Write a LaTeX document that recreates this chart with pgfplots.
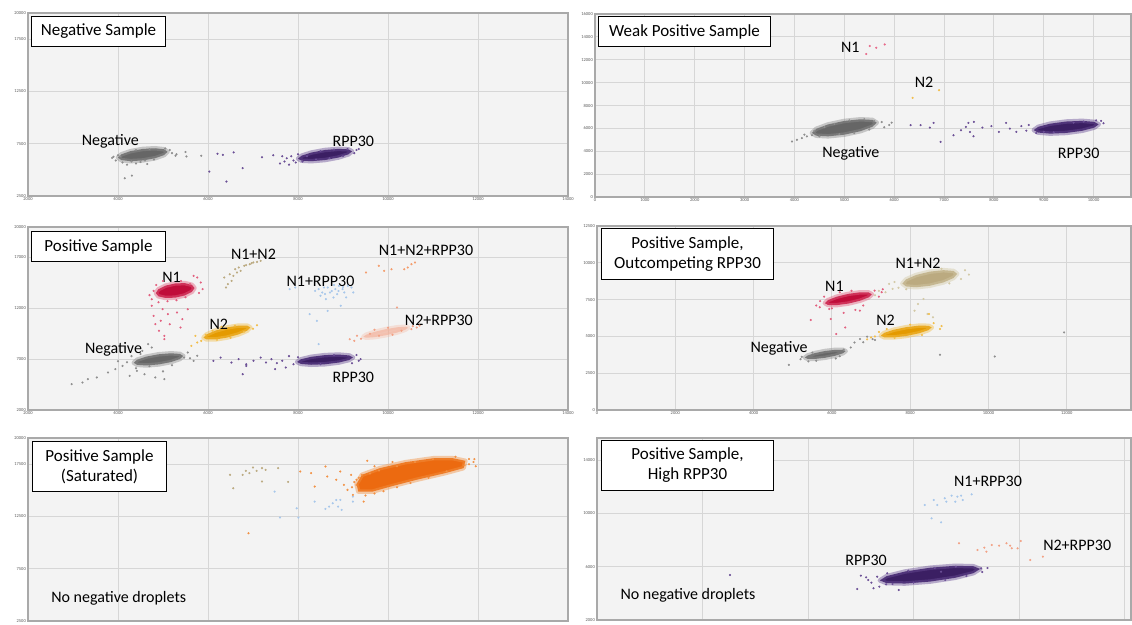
\documentclass[border=0pt]{standalone}
\usepackage{fontspec}
\setmainfont{Carlito}
\usepackage{pgfplots}
\pgfplotsset{compat=1.18}
\definecolor{bgc}{HTML}{F3F3F3}
\definecolor{gridc}{HTML}{D6D6D6}
\definecolor{framec}{HTML}{A9A9A9}
\definecolor{negc}{HTML}{666666}
\definecolor{negh}{HTML}{8E8E8E}
\definecolor{rppc}{HTML}{3B1F63}
\definecolor{rpph}{HTML}{6B4F96}
\definecolor{n1c}{HTML}{C00D3A}
\definecolor{n1h}{HTML}{E2607F}
\definecolor{n2c}{HTML}{E49A00}
\definecolor{n2h}{HTML}{F2BE4A}
\definecolor{n12c}{HTML}{BBAA80}
\definecolor{n12h}{HTML}{D3C9A6}
\definecolor{n1rc}{HTML}{A7C7EB}
\definecolor{n2rc}{HTML}{F2A184}
\definecolor{n2rh}{HTML}{F6B9A2}
\definecolor{n12rc}{HTML}{F39C6B}
\definecolor{satc}{HTML}{EC6A10}
\definecolor{sath}{HTML}{F29245}
\definecolor{pinkc}{HTML}{E86A8A}
\tikzset{
  tbox/.style={draw=black, line width=1pt, fill=white, anchor=north west, inner sep=0pt, align=center, font=\fontsize{17}{20}\selectfont},
  lab/.style={font=\fontsize{16}{18}\selectfont, text=black},
}
\pgfplotsset{
  dd/.style={scale only axis, anchor=north west, clip=false,
    axis background/.style={fill=bgc},
    grid=major, major grid style={draw=gridc, line width=0.9pt},
    axis line style={draw=framec, line width=1.4pt},
    major tick length=0pt,
    tick label style={font=\fontsize{4.5}{5}\selectfont, text=black!65},
    /pgf/number format/assume math mode=true,
    /pgf/number format/1000 sep={},
    scaled ticks=false,
    xticklabel style={inner sep=1.5pt},
    yticklabel style={inner sep=2pt},
  },
  cl/.style 2 args={fill=#1, draw=#2, line width=4.5pt, draw opacity=0.45, line join=round, line cap=round, forget plot},
  pts/.style={only marks, mark=*, mark size=0.85pt, color=#1, mark options={draw=none, fill=#1}, forget plot},
}
\begin{document}
\begin{tikzpicture}
% ---------------- TL: Negative Sample
\begin{axis}[dd, at={(28pt,-13pt)}, width=540pt, height=183pt,
  xmin=2000, xmax=14000, ymin=2500, ymax=20000,
  xtick={2000,4000,6000,8000,10000,12000,14000}, ytick={2500,7500,12500,17500,20000}]
\addplot[cl={negc}{negh}] coordinates {(5100,6730)(5026,6967)(4825,7067)(4550,7000)(4275,6787)(4074,6483)(4000,6170)(4074,5933)(4275,5833)(4550,5900)(4825,6113)(5026,6417)(5100,6730)};
\addplot[pts=negh] coordinates {(3870,6150)(3950,5900)(4050,6300)(4100,5700)(4200,5500)(4300,5800)(4400,5600)(4500,5750)(4150,4200)(4310,4450)(4600,5900)(4800,6000)(5150,6900)(5200,6600)(5300,6500)(5280,6350)(5520,6280)(5850,6350)(5500,6700)(4700,7000)(4400,6900)(4000,6400)(3900,6250)(5050,7050)(4650,5550)};
\addplot[cl={rppc}{rpph}] coordinates {(9200,6770)(9120,6963)(8900,7010)(8600,6900)(8300,6660)(8080,6357)(8000,6070)(8080,5877)(8300,5830)(8600,5940)(8900,6180)(9120,6483)(9200,6770)};
\addplot[pts=rpph] coordinates {(6210,6540)(6330,6440)(6570,6670)(6030,4840)(6410,3880)(6770,5160)(7200,6200)(7450,6400)(7600,5600)(7650,6300)(7700,5800)(7750,6100)(7800,5500)(7850,6300)(7900,5900)(7950,5700)(8000,6500)(8100,5800)(8200,6300)(9300,6900)(9350,7000)(9250,6600)(9100,7000)(8800,6950)(8500,6800)(8400,6000)(8700,6100)(9000,6300)};
\node[lab] at (axis cs:3830,7720) {Negative};
\node[lab] at (axis cs:9230,7720) {RPP30};
\node[tbox, minimum width=134pt, minimum height=30pt, xshift=3pt, yshift=-3pt] at (rel axis cs:0,1) {Negative Sample};
\end{axis}
% ---------------- TR: Weak Positive Sample
\begin{axis}[dd, at={(595pt,-14pt)}, width=536pt, height=183pt,
  xmin=0, xmax=10750, ymin=0, ymax=16000,
  xtick={0,1000,...,10000}, ytick={0,2000,...,16000}]
\addplot[cl={negc}{negh}] coordinates {(5650,6500)(5563,6740)(5325,6795)(5000,6650)(4675,6345)(4437,5960)(4350,5600)(4437,5360)(4675,5305)(5000,5450)(5325,5755)(5563,6140)(5650,6500)};
\addplot[pts=negh] coordinates {(3950,4850)(4050,5000)(4150,5150)(4250,5300)(4200,5450)(4350,5400)(4500,5300)(4400,5800)(4600,6100)(4800,6400)(5100,6700)(5400,6800)(5600,6650)(5750,6550)(5900,6300)(5800,6100)(5500,5900)(5200,5600)(4900,5500)(5950,6500)};
\addplot[cl={rppc}{rpph}] coordinates {(10100,6350)(10013,6567)(9775,6658)(9450,6600)(9125,6408)(8887,6133)(8800,5850)(8887,5633)(9125,5542)(9450,5600)(9775,5792)(10013,6067)(10100,6350)};
\addplot[pts=rpph] coordinates {(6330,6277)(6530,6277)(6715,6070)(6790,6480)(6930,4820)(7190,5400)(7340,5840)(7440,6130)(7490,6480)(7590,5310)(7520,5690)(7600,6570)(7770,6070)(7950,6190)(8100,5690)(8245,6480)(8320,5980)(8450,5700)(8550,6200)(8650,5800)(8700,6300)(10150,6650)(10200,6450)(10050,6700)(9800,6600)(9600,6500)(9200,5650)(9000,5700)(8850,5600)};
\addplot[pts=pinkc] coordinates {(5440,12500)(5510,13200)(5640,13050)(5810,13340)};
\addplot[pts=n2h] coordinates {(6370,8670)(6900,9340)};
\node[lab] at (axis cs:5120,13050) {N1};
\node[lab] at (axis cs:6600,10070) {N2};
\node[lab] at (axis cs:5130,3850) {Negative};
\node[lab] at (axis cs:9700,3850) {RPP30};
\node[tbox, minimum width=172pt, minimum height=30pt, xshift=3pt, yshift=-2pt] at (rel axis cs:0,1) {Weak Positive Sample};
\end{axis}
% ---------------- ML: Positive Sample
\begin{axis}[dd, at={(28pt,-227pt)}, width=540pt, height=183pt,
  xmin=2000, xmax=14000, ymin=2000, ymax=20000,
  xtick={2000,4000,6000,8000,10000,12000,14000}, ytick={2000,7000,12000,17000,20000}]
\addplot[cl={negc}{negh}] coordinates {(5450,7310)(5376,7516)(5175,7578)(4900,7480)(4625,7248)(4424,6944)(4350,6650)(4424,6444)(4625,6382)(4900,6480)(5175,6712)(5376,7016)(5450,7310)};
\addplot[pts=negh] coordinates {(2970,4540)(3210,4700)(3330,5030)(3530,5200)(3780,5690)(3940,6020)(4100,6340)(4260,5360)(4590,5520)(4830,5200)(5030,5030)(4420,5850)(4670,8480)(4750,8150)(4540,7820)(5550,7660)(5680,6840)(5760,7330)(5470,7160)(4200,6700)(4300,7300)(4500,7500)(5600,7100)(5200,6400)(4700,6300)(4000,6800)(5000,5800)(4400,6100)};
\addplot[cl={n1c}{n1h}] coordinates {(5700,14000)(5642,14317)(5485,14481)(5270,14450)(5055,14231)(4898,13883)(4840,13500)(4898,13183)(5055,13019)(5270,13050)(5485,13269)(5642,13617)(5700,14000)};
\addplot[pts=n1h] coordinates {(4750,12250)(4790,11260)(4830,10440)(4910,9790)(4950,10770)(5030,9300)(4990,11920)(5110,11430)(5150,10440)(5310,11590)(5390,10110)(5430,10930)(5550,11920)(5030,8970)(5760,15030)(5840,14540)(5880,13890)(5680,15200)(4750,12900)(4790,13720)(4700,13300)(4850,14300)(5000,14700)(5400,14700)(5600,14400)(5800,13500)(5100,12700)(5300,12800)(4900,12600)(5500,13100)};
\addplot[cl={n2c}{n2h}] coordinates {(6940,10120)(6870,10303)(6680,10303)(6420,10120)(6160,9803)(5970,9437)(5900,9120)(5970,8937)(6160,8937)(6420,9120)(6680,9437)(6870,9803)(6940,10120)};
\addplot[pts=n2h] coordinates {(5630,8310)(5760,8640)(5720,9300)(7090,10340)(5850,8800)(5950,9400)(6100,9800)(6300,10200)(6600,10300)(6800,9700)(6500,9100)(7000,10000)(6200,8900)};
\addplot[pts=n12c] coordinates {(6362,15030)(6483,15360)(6604,15850)(6685,16020)(6806,16180)(6927,16340)(7008,16510)(7089,16570)(6523,14700)(6645,15520)(6564,15200)(6846,16250)(6443,14380)(6402,14050)(6968,16440)(7170,16670)(6725,15690)};
\addplot[pts=n1rc] coordinates {(7815,13890)(7937,14050)(8260,11430)(8420,10770)(8460,8480)(8660,11750)(8950,12250)(9190,14050)(9230,13560)(9070,13070)(9110,14210)(8580,14050)(8380,13720)(8500,13230)(8870,13390)(8990,13890)(8790,13070)(8620,12900)(8910,14210)(8710,13560)(8830,13890)(8540,13560)(9030,13560)(8460,13890)(8660,14050)(8750,13700)(8800,14300)(8900,13700)(8600,13400)(9000,14100)};
\addplot[pts=n12rc] coordinates {(9510,15520)(9795,16180)(10078,15850)(10360,15850)(10440,16020)(10520,16340)(10600,16510)(9915,15690)};
\addplot[cl={n2rc}{n2rh}, fill opacity=0.55, draw opacity=0.35] coordinates {(10450,10100)(10383,10190)(10200,10135)(9950,9950)(9700,9685)(9517,9410)(9450,9200)(9517,9110)(9700,9165)(9950,9350)(10200,9615)(10383,9890)(10450,10100)};
\addplot[pts=n2rc] coordinates {(9150,8970)(9310,9300)(10200,12080)(10520,9950)(10640,10110)(9400,9000)(9600,9500)(9800,9300)(10000,10100)(10300,9800)(10100,9400)(9700,9900)(9250,8800)(10700,10300)(10550,10250)};
\addplot[cl={rppc}{rpph}] coordinates {(9220,7170)(9137,7366)(8910,7450)(8600,7400)(8290,7230)(8063,6984)(7980,6730)(8063,6534)(8290,6450)(8600,6500)(8910,6670)(9137,6916)(9220,7170)};
\addplot[pts=rpph] coordinates {(6120,6840)(6280,7160)(6520,6670)(6680,7000)(6850,6510)(7010,6840)(7170,7160)(7290,6670)(7410,7000)(7530,6610)(7650,6840)(6770,5520)(6850,6340)(9390,7000)(9350,6840)(7490,6020)(7730,6180)(7800,7300)(7900,6500)(8000,7200)(9300,7400)(9200,6600)(8500,6500)(8800,7400)};
\node[lab] at (axis cs:5190,15030) {N1};
\node[lab] at (axis cs:7010,17330) {N1+N2};
\node[lab] at (axis cs:8500,14700) {N1+RPP30};
\node[lab] at (axis cs:10845,17660) {N1+N2+RPP30};
\node[lab] at (axis cs:6240,10440) {N2};
\node[lab] at (axis cs:11130,10770) {N2+RPP30};
\node[lab] at (axis cs:3900,7980) {Negative};
\node[lab] at (axis cs:9230,5200) {RPP30};
\node[tbox, minimum width=134pt, minimum height=30pt, xshift=3pt, yshift=-4pt] at (rel axis cs:0,1) {Positive Sample};
\end{axis}
% ---------------- MR: Outcompeting RPP30
\begin{axis}[dd, at={(597pt,-226pt)}, width=534pt, height=184pt,
  xmin=0, xmax=13640, ymin=0, ymax=12500,
  xtick={0,2000,...,12000}, ytick={0,2500,...,12500}]
\addplot[cl={negc}{negh}] coordinates {(6350,4000)(6280,4086)(6090,4089)(5830,4010)(5570,3869)(5380,3704)(5310,3560)(5380,3474)(5570,3471)(5830,3550)(6090,3691)(6280,3856)(6350,4000)};
\addplot[pts=negh] coordinates {(4900,3070)(5230,3610)(6577,4590)(6716,4820)(6900,4980)(7040,4820)(6480,4250)(5400,3300)(5600,3350)(6100,3500)(6300,4100)(5500,3900)(5200,3450)(6200,3650)(11930,5270)(10160,3640)(8760,3750)(6800,4600)(7100,4750)};
\addplot[cl={n1c}{n1h}] coordinates {(7020,7860)(6940,7985)(6720,7996)(6420,7890)(6120,7696)(5900,7465)(5820,7260)(5900,7135)(6120,7124)(6420,7230)(6720,7424)(6940,7655)(7020,7860)};
\addplot[pts=n1h] coordinates {(5460,6110)(5970,6180)(6110,5160)(6340,5610)(5930,6860)(5690,6980)(6716,6750)(7090,8110)(7270,8000)(5700,7400)(5600,7100)(6000,6900)(6800,7100)(7200,7700)(7300,8200)(6500,8100)(6200,8000)(5800,7700)(6600,6800)(6300,6600)};
\addplot[cl={n12c}{n12h}] coordinates {(9200,9250)(9106,9446)(8850,9501)(8500,9400)(8150,9171)(7894,8874)(7800,8590)(7894,8394)(8150,8339)(8500,8440)(8850,8669)(9106,8966)(9200,9250)};
\addplot[pts=n12h] coordinates {(7370,8000)(7550,8230)(8200,7200)(8110,6750)(8340,7545)(8580,6300)(8440,6520)(7460,8570)(9400,9500)(9500,9200)(9300,8900)(7600,8700)(7700,8300)(8800,9600)(9000,8600)(7900,8200)(7100,7800)(7200,8100)};
\addplot[cl={n2c}{n2h}] coordinates {(8550,5610)(8463,5722)(8225,5730)(7900,5630)(7575,5450)(7337,5238)(7250,5050)(7337,4938)(7575,4930)(7900,5030)(8225,5210)(8463,5422)(8550,5610)};
\addplot[pts=n2h] coordinates {(8480,6520)(8760,5500)(7000,4930)(7100,5000)(7200,5300)(8600,5900)(8800,5700)(8300,5100)(7600,4900)(8000,5800)(7400,5500)(6900,4800)};
\node[lab] at (axis cs:6065,8390) {N1};
\node[lab] at (axis cs:8200,9980) {N1+N2};
\node[lab] at (axis cs:7370,6070) {N2};
\node[lab] at (axis cs:4650,4180) {Negative};
\node[tbox, minimum width=172pt, minimum height=51pt, xshift=4pt, yshift=-2pt] at (rel axis cs:0,1) {Positive Sample,\\Outcompeting RPP30};
\end{axis}
% ---------------- BL: Saturated
\begin{axis}[dd, at={(28pt,-438pt)}, width=540pt, height=183pt,
  xmin=2000, xmax=14000, ymin=2500, ymax=20000,
  xtick={2000,4000,6000,8000,10000,12000,14000}, xticklabels={}, ytick={2500,7500,12500,17500,20000}]
\addplot[pts=n12c] coordinates {(6490,16480)(6560,15200)(6770,16480)(6840,16860)(7000,17180)(7080,16860)(7200,17120)(7280,16960)(7200,15840)(7560,17120)(7780,15800)(6920,16640)};
\addplot[pts=n1rc] coordinates {(7480,14880)(7600,12390)(7970,13280)(8010,12390)(8370,13920)(8610,13220)(8690,13440)(8770,13760)(8850,14080)(8890,13440)(8970,13120)(8940,14080)(9220,14400)(9220,13920)};
\addplot[cl={satc}{sath}] coordinates {(9340,14880)(9300,15600)(9420,16480)(9820,17120)(10390,17690)(11030,18080)(11430,18080)(11720,17820)(11680,17120)(11270,16640)(10630,16000)(10060,15360)(9660,14880)(9340,14880)};
\addplot[pts=sath] coordinates {(8050,16800)(8290,16640)(8370,15360)(8610,17280)(8650,16320)(8850,16000)(8940,16800)(9020,15520)(9100,15040)(9180,16480)(9220,14560)(9300,16000)(9460,13920)(9420,16480)(9540,17820)(6900,10890)(11920,17980)(11800,17500)(9300,15500)(9500,14500)(9700,14700)(9900,14900)(10200,15300)(10500,15700)(10900,16200)(11300,16800)(11700,17400)(11900,17700)(11800,18000)(11500,18200)(11000,18000)(10600,17700)(10200,17300)(9800,16900)(9600,16600)(9350,16200)(9250,15800)(9200,15300)(9700,17300)(10100,17700)(11950,17300)};
\node[lab, anchor=west] at (axis cs:2440,4660) {No negative droplets};
\node[tbox, minimum width=134pt, minimum height=50pt, xshift=4pt, yshift=-3pt] at (rel axis cs:0,1) {Positive Sample\\(Saturated)};
\end{axis}
% ---------------- BR: High RPP30
\begin{axis}[dd, at={(597pt,-438pt)}, width=534pt, height=182pt,
  xmin=0, xmax=10120, ymin=2000, ymax=15650,
  xtick={0,2000,...,10000}, xticklabels={}, ytick={2000,6000,10000,14000}]
\addplot[cl={rppc}{rpph}] coordinates {(7260,5830)(7133,6032)(6785,6066)(6310,5920)(5835,5636)(5487,5288)(5360,4970)(5487,4768)(5835,4734)(6310,4880)(6785,5164)(7133,5512)(7260,5830)};
\addplot[pts=rpph] coordinates {(5000,5325)(5140,5000)(4930,4325)(5240,4375)(5720,4250)(5480,4675)(6520,5625)(7280,5875)(5310,5250)(2520,5375)(5200,4800)(5600,4700)(6000,4800)(6600,5000)(7000,5300)(7300,5600)(7400,5900)(6800,6000)(6400,5900)(5900,5700)(5500,5500)(5100,5200)(5350,4500)};
\addplot[pts=n1rc] coordinates {(6210,10625)(6380,11000)(6450,10625)(6590,11125)(6720,11325)(6830,11250)(6900,11325)(7100,11425)(6930,11000)(6340,9625)(6520,9325)(6620,10875)(6790,10875)};
\addplot[pts=n2rc] coordinates {(6860,7750)(7210,7250)(7340,7425)(7480,7625)(7620,7575)(7760,7750)(7830,7575)(7860,7375)(8030,7925)(7970,7375)(8210,6500)(8450,6750)(7380,7125)};
\node[lab] at (axis cs:7410,12375) {N1+RPP30};
\node[lab] at (axis cs:9100,7575) {N2+RPP30};
\node[lab] at (axis cs:5100,6500) {RPP30};
\node[lab, anchor=west] at (axis cs:380,3875) {No negative droplets};
\node[tbox, minimum width=172pt, minimum height=50pt, xshift=4pt, yshift=-2pt] at (rel axis cs:0,1) {Positive Sample,\\High RPP30};
\end{axis}
\pgfresetboundingbox
\path[use as bounding box] (0,0) rectangle (1132pt,-624pt);
\end{tikzpicture}
\end{document}
